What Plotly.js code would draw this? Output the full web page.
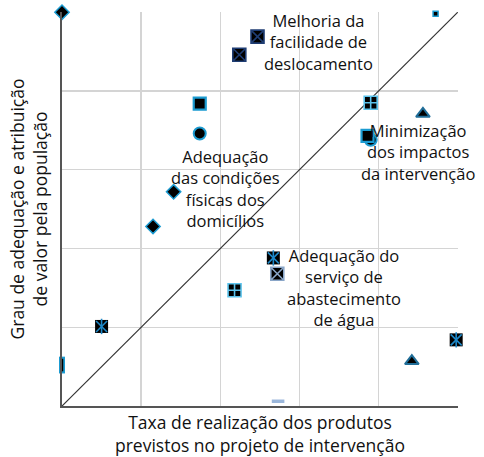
<!DOCTYPE html>
<html><head><meta charset="utf-8">
<script src="https://cdn.plot.ly/plotly-3.0.1.min.js"></script>
<style>html,body{margin:0;padding:0;background:#fff}</style>
</head><body><div id="chart" style="width:484px;height:457px"></div>
<script>
// Reference diagonal
const diagX = [0, 5];
const diagY = [0, 5];
// Marker groups (x = realização, y = adequação)
const diamondX = [0, 1.41, 1.15];
const diamondY = [5, 2.72, 2.28];
const squareXdarkX = [2.47, 2.24];
const squareXdarkY = [4.69, 4.46];
const squareXlightX = [2.72];
const squareXlightY = [1.68];
const squareOutX = [1.74, 3.86];
const squareOutY = [3.84, 3.43];
const circleX = [1.74, 3.90];
const circleY = [3.46, 3.38];
const plusX = [3.90, 2.18];
const plusY = [3.85, 1.47];
const triX = [4.56, 4.42];
const triY = [3.71, 0.57];
const starX = [2.67, 4.98, 0.50];
const starY = [1.88, 0.84, 1.01];
const dashCyanX = [4.72];
const dashCyanY = [4.98];
const dashLightX = [2.73];
const dashLightY = [0.06];
const barX = [0];
const barY = [0.52];
// Group labels
const labelText = [
  "Melhoria da<br>facilidade de<br>deslocamento",
  "Minimização<br>dos impactos<br>da intervenção",
  "Adequação<br>das condições<br>físicas dos<br>domicílios",
  "Adequação do<br>serviço de<br>abastecimento<br>de água"
];
const labelX = [3.245, 4.50, 2.07, 3.56];
const labelY = [4.62, 3.22, 2.76, 1.50];

const CYAN = "#1b9bd1";
function sc(x, y, marker, extra) {
  return Object.assign({type: "scatter", mode: "markers", x: x, y: y, marker: marker, hoverinfo: "none", cliponaxis: false}, extra || {});
}
const traces = [
  {type: "scatter", mode: "lines", x: diagX, y: diagY, line: {color: "#333", width: 1.2}, hoverinfo: "none"},
  sc(diamondX, diamondY, {symbol: "diamond", size: 11, color: "#000", line: {color: CYAN, width: 1.5}}),
  sc(squareXdarkX, squareXdarkY, {symbol: "square-x", size: 13, color: "#000", line: {color: "#1f3d73", width: 1.6}}),
  sc(squareXlightX, squareXlightY, {symbol: "square-x", size: 13, color: "#000", line: {color: "#8aa6c8", width: 1.6}}),
  sc(circleX, circleY, {symbol: "circle", size: 12, color: "#000", line: {color: CYAN, width: 2}}),
  sc(squareOutX, squareOutY, {symbol: "square", size: 12, color: "#000", line: {color: CYAN, width: 2.2}}),
  sc(plusX, plusY, {symbol: "square-cross", size: 13, color: "#000", line: {color: "#5cc3ec", width: 1.6}}),
  sc(triX, triY, {symbol: "triangle-up", size: 12, color: "#000", line: {color: "#1f6d98", width: 2}}),
  sc(starX, starY, {symbol: "square", size: 13, color: "#000", line: {color: "#000", width: 0}}),
  sc(starX, starY, {symbol: "x-thin-open", size: 11, color: "#1e88c8", line: {color: "#1e88c8", width: 1.6}}),
  sc(starX, starY, {symbol: "line-ns-open", size: 11, color: "#1e88c8", line: {color: "#1e88c8", width: 1.6}}),
  sc(dashCyanX, dashCyanY, {symbol: "square", size: 5, color: "#000", line: {color: CYAN, width: 1.5}}),
  sc(dashLightX, dashLightY, {symbol: "line-ew-open", size: 9, color: "#9bb7db", line: {color: "#9bb7db", width: 3.5}}),
  sc(barX, barY, {symbol: "line-ns-open", size: 12, color: CYAN, line: {color: CYAN, width: 6}}),
  sc(barX, barY, {symbol: "line-ns-open", size: 9, color: "#000", line: {color: "#000", width: 2.5}})
];

const font = "Open Sans, Noto Sans, sans-serif";
const annotations = labelText.map((t, i) => ({
  x: labelX[i], y: labelY[i], xref: "x", yref: "y", text: t, showarrow: false,
  font: {family: font, size: 16.5, color: "#111"}, align: "center"
}));

const axisBase = {
  range: [0, 5.003], dtick: 1, tick0: 0, showticklabels: false, ticks: "",
  showgrid: true, gridcolor: "#d4d4d4", gridwidth: 1.5, zeroline: false,
  showline: true, linecolor: "#555", linewidth: 2, fixedrange: true
};
const layout = {
  width: 484, height: 457,
  margin: {l: 62, r: 26, t: 12, b: 51},
  paper_bgcolor: "#fff", plot_bgcolor: "#fff",
  showlegend: false,
  font: {family: font, color: "#111"},
  xaxis: Object.assign({}, axisBase, {
    title: {text: "Taxa de realização dos produtos<br>previstos no projeto de intervenção", font: {family: font, size: 17.5, color: "#111"}, standoff: 14}
  }),
  yaxis: Object.assign({}, axisBase, {
    title: {text: "Grau de adequação e atribuição<br>de valor pela população", font: {family: font, size: 17.5, color: "#111"}, standoff: 8}
  }),
  annotations: annotations
};
Plotly.newPlot("chart", traces, layout, {displayModeBar: false, staticPlot: true});
</script>
</body></html>
